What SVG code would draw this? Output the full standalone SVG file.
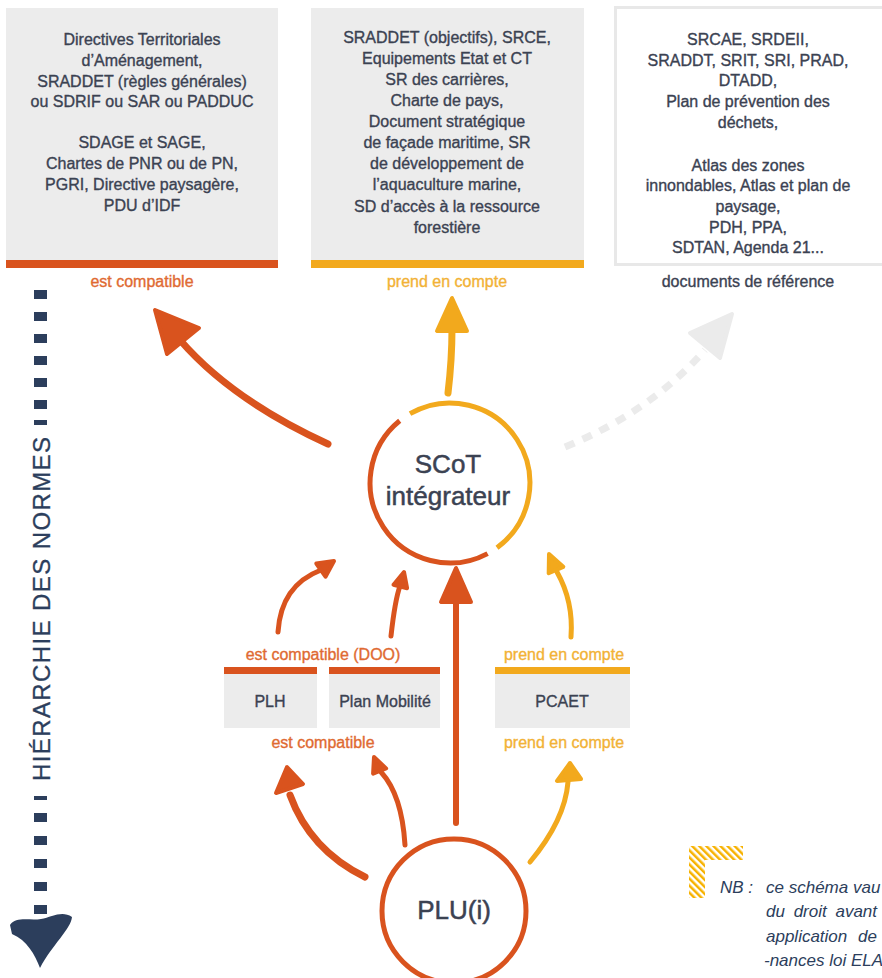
<svg xmlns="http://www.w3.org/2000/svg" width="882" height="978" viewBox="0 0 882 978">
<defs>
<style>
text{font-family:"Liberation Sans",Arial,sans-serif;}
.bt{font-size:16px;fill:#3b4252;stroke:#3b4252;stroke-width:0.35;text-anchor:middle;}
.box{fill:#ececec;}
.or{fill:#d9531e;}
.ye{fill:#f2a91d;}
.lo{font-size:16px;fill:#df6a32;stroke:#df6a32;stroke-width:0.35;text-anchor:middle;}
.ly{font-size:16px;fill:#f2b236;stroke:#f2b236;stroke-width:0.35;text-anchor:middle;}
.ld{font-size:16px;fill:#3b4252;stroke:#3b4252;stroke-width:0.35;text-anchor:middle;}
.big{font-size:26px;fill:#3b4252;stroke:#3b4252;stroke-width:0.5;text-anchor:middle;}
.ao{fill:none;stroke:#d9531e;stroke-linecap:round;}
.ay{fill:none;stroke:#f2a91d;stroke-linecap:round;}
.ho{fill:#d9531e;stroke:#d9531e;stroke-width:4;stroke-linejoin:round;}
.hy{fill:#f2a91d;stroke:#f2a91d;stroke-width:4;stroke-linejoin:round;}
.nb{font-size:17px;fill:#2c3e5c;font-style:italic;}
.dash{fill:#2c3e5c;}
</style>
<pattern id="hatch" width="5" height="5" patternUnits="userSpaceOnUse" patternTransform="rotate(-45)">
<rect width="5" height="5" fill="#ffffff"/>
<rect width="2.5" height="5" fill="#f7b200"/>
</pattern>
</defs>
<rect width="882" height="978" fill="#ffffff"/>

<g id="box-compatible">
<rect class="box" x="6" y="8" width="272" height="252"/>
<rect class="or" x="6" y="260" width="272" height="8"/>
<text class="bt" x="142" y="45">Directives Territoriales</text>
<text class="bt" x="142" y="66">d’Aménagement,</text>
<text class="bt" x="142" y="87">SRADDET (règles générales)</text>
<text class="bt" x="142" y="107">ou SDRIF ou SAR ou PADDUC</text>
<text class="bt" x="142" y="148">SDAGE et SAGE,</text>
<text class="bt" x="142" y="169">Chartes de PNR ou de PN,</text>
<text class="bt" x="142" y="190">PGRI, Directive  paysagère,</text>
<text class="bt" x="142" y="211">PDU d’IDF</text>
<text class="lo" x="142" y="287">est compatible</text>
</g>

<g id="box-prend">
<rect class="box" x="311" y="8" width="273" height="252"/>
<rect class="ye" x="311" y="260" width="273" height="8"/>
<text class="bt" x="447" y="43">SRADDET (objectifs), SRCE,</text>
<text class="bt" x="447" y="64">Equipements Etat et CT</text>
<text class="bt" x="447" y="85">SR des carrières,</text>
<text class="bt" x="447" y="106">Charte de pays,</text>
<text class="bt" x="447" y="127">Document stratégique</text>
<text class="bt" x="447" y="148">de façade maritime, SR</text>
<text class="bt" x="447" y="169">de développement de</text>
<text class="bt" x="447" y="190">l’aquaculture marine,</text>
<text class="bt" x="447" y="212">SD d’accès à la ressource</text>
<text class="bt" x="447" y="233">forestière</text>
<text class="ly" x="447" y="287">prend en compte</text>
</g>

<g id="box-reference">
<rect x="615.5" y="7.5" width="280" height="257" fill="#ffffff" stroke="#e8e8e8" stroke-width="3"/>
<text class="bt" x="748" y="45">SRCAE, SRDEII,</text>
<text class="bt" x="748" y="66">SRADDT, SRIT, SRI, PRAD,</text>
<text class="bt" x="748" y="86">DTADD,</text>
<text class="bt" x="748" y="107">Plan de prévention des</text>
<text class="bt" x="748" y="128">déchets,</text>
<text class="bt" x="748" y="171">Atlas des zones</text>
<text class="bt" x="748" y="191">innondables, Atlas et plan de</text>
<text class="bt" x="748" y="212">paysage,</text>
<text class="bt" x="748" y="233">PDH, PPA,</text>
<text class="bt" x="748" y="253">SDTAN, Agenda 21...</text>
<text class="ld" x="748" y="287">documents de référence</text>
</g>

<g id="hierarchie">
<g class="dash">
<rect x="34" y="290" width="13" height="9"/>
<rect x="34" y="312" width="13" height="9"/>
<rect x="34" y="334" width="13" height="9"/>
<rect x="34" y="356" width="13" height="9"/>
<rect x="34" y="378" width="13" height="9"/>
<rect x="34" y="400" width="13" height="9"/>
<rect x="34" y="420" width="13" height="5"/>
<rect x="34" y="796" width="13" height="4"/>
<rect x="34" y="813" width="13" height="9"/>
<rect x="34" y="836" width="13" height="9"/>
<rect x="34" y="859" width="13" height="9"/>
<rect x="34" y="882" width="13" height="9"/>
<rect x="34" y="905" width="13" height="9"/>
</g>
<path class="dash" d="M10,925 C16,916 30,921 41,919 C52,917 62,910 72,917 C71,929 52,945 40,968 C35,955 27,940 12,934 Z"/>
<text x="0" y="0" transform="translate(50,609) rotate(-90)" font-size="24" fill="#2c3e5c" stroke="#2c3e5c" stroke-width="0.3" text-anchor="middle" textLength="344" lengthAdjust="spacing">HIÉRARCHIE  DES NORMES</text>
</g>

<g id="connectors">
<path class="ao" stroke-width="7" d="M328,444 Q232,400 180,340"/>
<polygon class="ho" points="155,310 199,328 167,354"/>
<path class="ay" stroke-width="7" d="M448,393 Q452,360 452,328"/>
<polygon class="hy" points="452,298 437,331 467,331"/>
<path fill="none" stroke="#ebebeb" stroke-width="7" stroke-dasharray="10 9" d="M565,447 Q650,412 705,350"/>
<polygon fill="#ebebeb" stroke="#ebebeb" stroke-width="4" stroke-linejoin="round" points="732,314 690,333 720,358"/>

<path class="ao" stroke-width="5" d="M278,632 C280,600 295,580 321,570"/>
<polygon class="ho" stroke-width="2" points="334,561 325.5,576.7 316.3,563.5"/>
<path class="ao" stroke-width="5" d="M391,636 Q395,600 400,586"/>
<polygon class="ho" stroke-width="2" points="404,572 407.1,588.2 393.5,584.8"/>
<path class="ao" stroke-width="6" d="M456,823 L456,598"/>
<polygon class="ho" points="456,568 441,602 471,602"/>
<path class="ay" stroke-width="5" d="M571,637 C573,610 566,588 557,572"/>
<polygon class="hy" stroke-width="2" points="549,554 563.3,566.8 548.7,573.2"/>

<path class="ao" stroke-width="7" d="M365,877 Q310,850 290,795"/>
<polygon class="ho" points="287,767 276,793 303,784"/>
<path class="ao" stroke-width="5" d="M405,845 Q402,795 381,772"/>
<polygon class="ho" stroke-width="2" points="374,757 386.1,768.4 373.1,773.6"/>
<path class="ay" stroke-width="5" d="M530,862 Q565,820 568,782"/>
<polygon class="hy" stroke-width="2" points="570,763 557,781 581,779"/>
</g>

<g id="scot">
<path fill="none" stroke="#d9531e" stroke-width="5" d="M399.7,420.8 A80,80 0 0 0 487.6,553.6"/>
<path fill="none" stroke="#f2a91d" stroke-width="5" d="M410,413.7 A80,80 0 0 1 497,547.7"/>
<text class="big" x="448" y="473">SCoT</text>
<text class="big" x="448" y="505">intégrateur</text>
</g>

<g id="plui">
<circle cx="454" cy="911" r="72" fill="#ffffff" stroke="#d9531e" stroke-width="5"/>
<text class="big" x="454" y="919">PLU(i)</text>
</g>

<g id="plh-mobilite">
<text class="lo" x="323" y="660">est compatible (DOO)</text>
<rect class="or" x="224" y="667" width="93" height="7"/>
<rect class="box" x="224" y="674" width="93" height="54"/>
<text class="bt" x="270" y="707">PLH</text>
<rect class="or" x="329" y="667" width="111" height="7"/>
<rect class="box" x="329" y="674" width="111" height="54"/>
<text class="bt" x="385" y="707">Plan Mobilité</text>
<text class="lo" x="323" y="748">est compatible</text>
</g>

<g id="pcaet">
<text class="ly" x="564" y="660">prend en compte</text>
<rect class="ye" x="495" y="667" width="135" height="7"/>
<rect class="box" x="495" y="674" width="135" height="54"/>
<text class="bt" x="562" y="707">PCAET</text>
<text class="ly" x="564" y="748">prend en compte</text>
</g>

<g id="note">
<rect x="689" y="846" width="54" height="14" fill="url(#hatch)"/>
<rect x="689" y="860" width="16" height="38" fill="url(#hatch)"/>
<text class="nb" x="720" y="893">NB :</text>
<text class="nb" x="766" y="893">ce schéma vau</text>
<text class="nb" x="766" y="917" word-spacing="4">du droit avant</text>
<text class="nb" x="766" y="942" word-spacing="6">application de</text>
<text class="nb" x="764" y="966" font-size="15">-nances loi ELA</text>
</g>
</svg>
